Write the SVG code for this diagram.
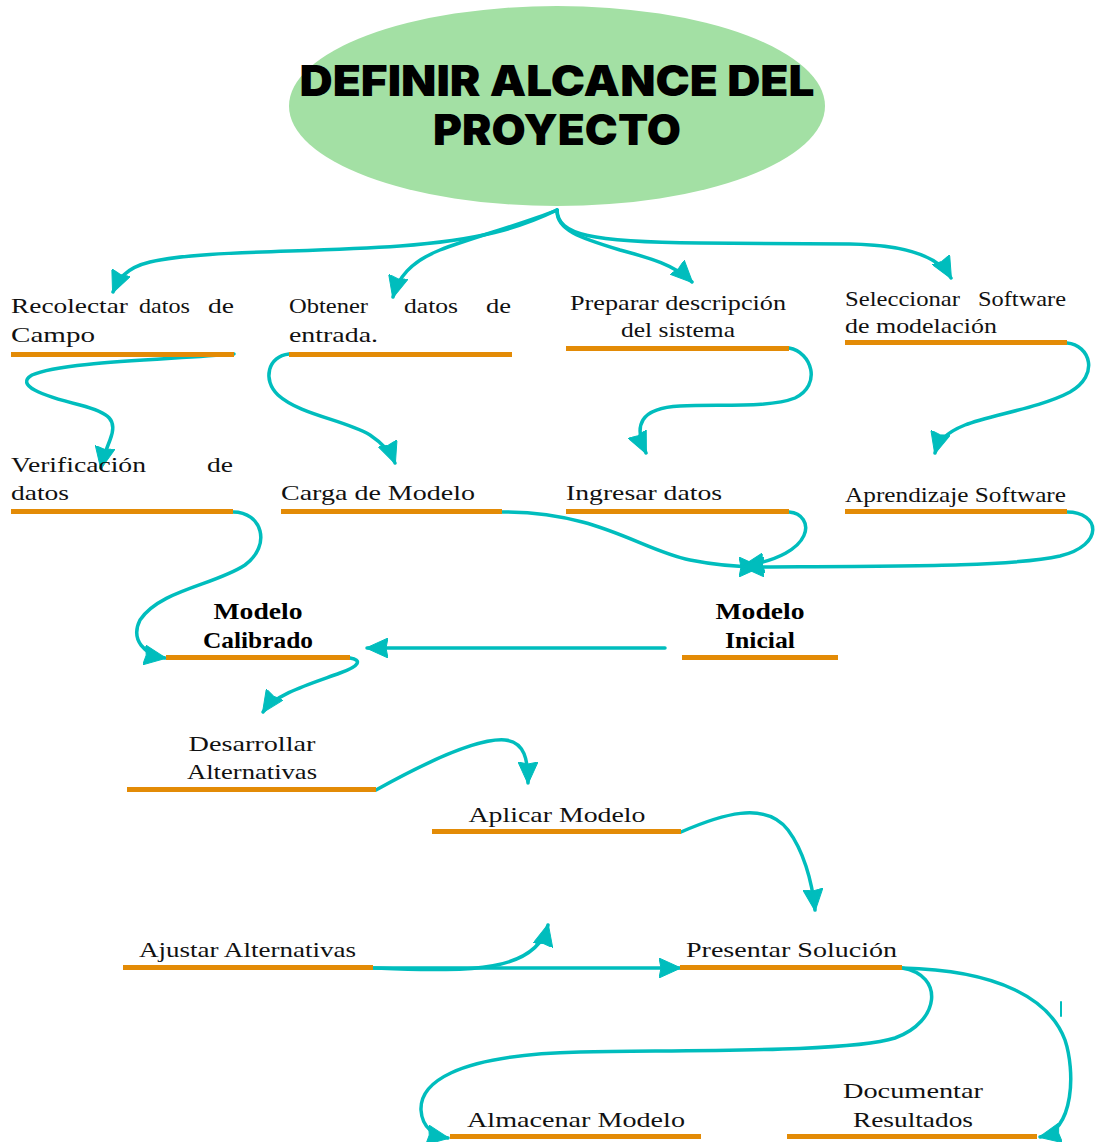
<svg xmlns="http://www.w3.org/2000/svg" width="1097" height="1142" viewBox="0 0 1097 1142">
<style>
.t{font-family:"Liberation Serif","Times New Roman",serif;font-size:22px;fill:#111}
.b{font-family:"Liberation Serif","Times New Roman",serif;font-size:24px;font-weight:bold;fill:#000}
.c{text-anchor:middle}
.e{text-anchor:end}
.ttl{font-family:Inter,Lato,"DejaVu Sans",sans-serif;font-weight:900;font-size:42px;fill:#000;text-anchor:middle}
.bar{fill:#E38B06}
.con path,.con line{fill:none;stroke:#00BDBD;stroke-width:3.5;stroke-linecap:round}
.con path.a{marker-end:url(#ah)}
</style>
<defs>
<marker id="ah" viewBox="0 0 22 20" refX="21" refY="10" markerWidth="22" markerHeight="20" markerUnits="userSpaceOnUse" orient="auto">
<path d="M0,0 L22,10 L0,20 L2,10 Z" fill="#00BDBD" stroke="#00BDBD" stroke-width="1" stroke-linejoin="round"/>
</marker>
</defs>
<rect width="1097" height="1142" fill="#fff"/>

<g id="n-root">
<ellipse cx="557" cy="106" rx="268" ry="100" fill="#A3E0A4"/>
<text class="ttl" x="557" y="96" textLength="515" lengthAdjust="spacingAndGlyphs">DEFINIR ALCANCE DEL</text>
<text class="ttl" x="557" y="145" textLength="248" lengthAdjust="spacingAndGlyphs">PROYECTO</text>
</g>

<g id="connectors" class="con">
<path class="a" d="M557,210 C520,228 480,240 400,246 C300,253 200,250 150,262 C125,268 118,280 113,292"/>
<path class="a" d="M557,210 C520,225 470,238 440,250 C410,262 398,278 393,297"/>
<path class="a" d="M557,210 C556,230 580,238 620,250 C650,258 675,265 692,282"/>
<path class="a" d="M557,210 C558,235 590,242 700,243 L850,244 C910,245 940,258 951,278"/>
<path class="a" d="M234,354 C160,360 60,362 32,375 C15,385 40,395 80,405 C110,413 118,420 110,440 C106,450 103,458 101,468"/>
<path class="a" d="M289,354 C268,356 262,380 278,395 C300,415 345,420 370,435 C385,445 392,455 395,463"/>
<path class="a" d="M789,348 C812,352 822,385 795,398 C770,408 720,404 680,406 C640,408 633,425 646,453"/>
<path class="a" d="M1067,343 C1090,345 1100,375 1070,392 C1040,408 990,415 965,425 C945,433 938,442 935,453"/>
<path class="a" d="M233,512 C262,512 272,545 245,565 C215,585 160,590 140,620 C130,640 145,655 165,658"/>
<path class="a" d="M502,512 C600,512 640,550 690,560 C715,565 740,567 760,567"/>
<path class="a" d="M789,512 C815,514 818,555 743,566"/>
<path class="a" d="M1067,512 C1100,512 1105,545 1060,556 C1010,567 900,566 743,567"/>
<path class="a" d="M665,648 L367,648"/>
<path class="a" d="M350,658 C362,660 360,666 340,673 C310,684 275,694 263,712"/>
<path class="a" d="M376,790 C430,760 480,738 505,740 C525,742 528,760 528,783"/>
<path class="a" d="M681,832 C720,815 765,800 788,830 C803,850 812,880 815,910"/>
<path class="a" d="M373,968 C450,970 535,978 548,925"/>
<path class="a" d="M373,968 L680,968"/>
<path class="a" d="M902,968 C945,975 940,1022 895,1038 C850,1052 700,1050 580,1052 C450,1055 420,1085 421,1110 C422,1128 435,1136 448,1138"/>
<path class="a" d="M902,968 C1000,970 1050,1000 1065,1040 C1075,1070 1075,1130 1040,1137"/>
<line x1="1061" y1="1002" x2="1061" y2="1016" style="stroke-width:2"/>
</g>

<g id="n-recolectar">
<text class="t" x="11" y="313" textLength="117" lengthAdjust="spacingAndGlyphs">Recolectar</text>
<text class="t" x="139" y="313" textLength="51" lengthAdjust="spacingAndGlyphs">datos</text>
<text class="t" x="208" y="313" textLength="26" lengthAdjust="spacingAndGlyphs">de</text>
<text class="t" x="11" y="342" textLength="84" lengthAdjust="spacingAndGlyphs">Campo</text>
<rect class="bar" x="11" y="352" width="223" height="5"/>
</g>
<g id="n-obtener">
<text class="t" x="289" y="313" textLength="79" lengthAdjust="spacingAndGlyphs">Obtener</text>
<text class="t" x="404" y="313" textLength="54" lengthAdjust="spacingAndGlyphs">datos</text>
<text class="t" x="486" y="313" textLength="25" lengthAdjust="spacingAndGlyphs">de</text>
<text class="t" x="289" y="342" textLength="89" lengthAdjust="spacingAndGlyphs">entrada.</text>
<rect class="bar" x="289" y="352" width="223" height="5"/>
</g>
<g id="n-preparar">
<text class="t c" x="678" y="310" textLength="216" lengthAdjust="spacingAndGlyphs">Preparar descripción</text>
<text class="t c" x="678" y="337" textLength="114" lengthAdjust="spacingAndGlyphs">del sistema</text>
<rect class="bar" x="566" y="346" width="223" height="5"/>
</g>
<g id="n-seleccionar">
<text class="t" x="845" y="306" textLength="115" lengthAdjust="spacingAndGlyphs">Seleccionar</text>
<text class="t" x="978" y="306" textLength="88" lengthAdjust="spacingAndGlyphs">Software</text>
<text class="t" x="845" y="333" textLength="152" lengthAdjust="spacingAndGlyphs">de modelación</text>
<rect class="bar" x="845" y="340" width="222" height="5"/>
</g>
<g id="n-verificacion">
<text class="t" x="11" y="472" textLength="135" lengthAdjust="spacingAndGlyphs">Verificación</text>
<text class="t" x="207" y="472" textLength="26" lengthAdjust="spacingAndGlyphs">de</text>
<text class="t" x="11" y="500" textLength="58" lengthAdjust="spacingAndGlyphs">datos</text>
<rect class="bar" x="11" y="509" width="222" height="5"/>
</g>
<g id="n-carga">
<text class="t" x="281" y="500" textLength="194" lengthAdjust="spacingAndGlyphs">Carga de Modelo</text>
<rect class="bar" x="281" y="509" width="221" height="5"/>
</g>
<g id="n-ingresar">
<text class="t" x="566" y="500" textLength="156" lengthAdjust="spacingAndGlyphs">Ingresar datos</text>
<rect class="bar" x="566" y="509" width="223" height="5"/>
</g>
<g id="n-aprendizaje">
<text class="t" x="845" y="502" textLength="221" lengthAdjust="spacingAndGlyphs">Aprendizaje Software</text>
<rect class="bar" x="845" y="509" width="222" height="5"/>
</g>
<g id="n-calibrado">
<text class="b c" x="258" y="619" textLength="89" lengthAdjust="spacingAndGlyphs">Modelo</text>
<text class="b c" x="258" y="648" textLength="110" lengthAdjust="spacingAndGlyphs">Calibrado</text>
<rect class="bar" x="166" y="655" width="184" height="5"/>
</g>
<g id="n-inicial">
<text class="b c" x="760" y="619" textLength="89" lengthAdjust="spacingAndGlyphs">Modelo</text>
<text class="b c" x="760" y="648" textLength="70" lengthAdjust="spacingAndGlyphs">Inicial</text>
<rect class="bar" x="682" y="655" width="156" height="5"/>
</g>
<g id="n-desarrollar">
<text class="t c" x="252" y="751" textLength="127" lengthAdjust="spacingAndGlyphs">Desarrollar</text>
<text class="t c" x="252" y="779" textLength="130" lengthAdjust="spacingAndGlyphs">Alternativas</text>
<rect class="bar" x="127" y="787" width="249" height="5"/>
</g>
<g id="n-aplicar">
<text class="t c" x="557" y="822" textLength="177" lengthAdjust="spacingAndGlyphs">Aplicar Modelo</text>
<rect class="bar" x="432" y="829" width="249" height="5"/>
</g>
<g id="n-ajustar">
<text class="t" x="139" y="957" textLength="217" lengthAdjust="spacingAndGlyphs">Ajustar Alternativas</text>
<rect class="bar" x="123" y="965" width="250" height="5"/>
</g>
<g id="n-presentar">
<text class="t" x="686" y="957" textLength="211" lengthAdjust="spacingAndGlyphs">Presentar Solución</text>
<rect class="bar" x="680" y="965" width="222" height="5"/>
</g>
<g id="n-almacenar">
<text class="t" x="467" y="1127" textLength="218" lengthAdjust="spacingAndGlyphs">Almacenar Modelo</text>
<rect class="bar" x="450" y="1134" width="251" height="5"/>
</g>
<g id="n-documentar">
<text class="t c" x="913" y="1098" textLength="140" lengthAdjust="spacingAndGlyphs">Documentar</text>
<text class="t c" x="913" y="1127" textLength="120" lengthAdjust="spacingAndGlyphs">Resultados</text>
<rect class="bar" x="787" y="1134" width="250" height="5"/>
</g>
</svg>
